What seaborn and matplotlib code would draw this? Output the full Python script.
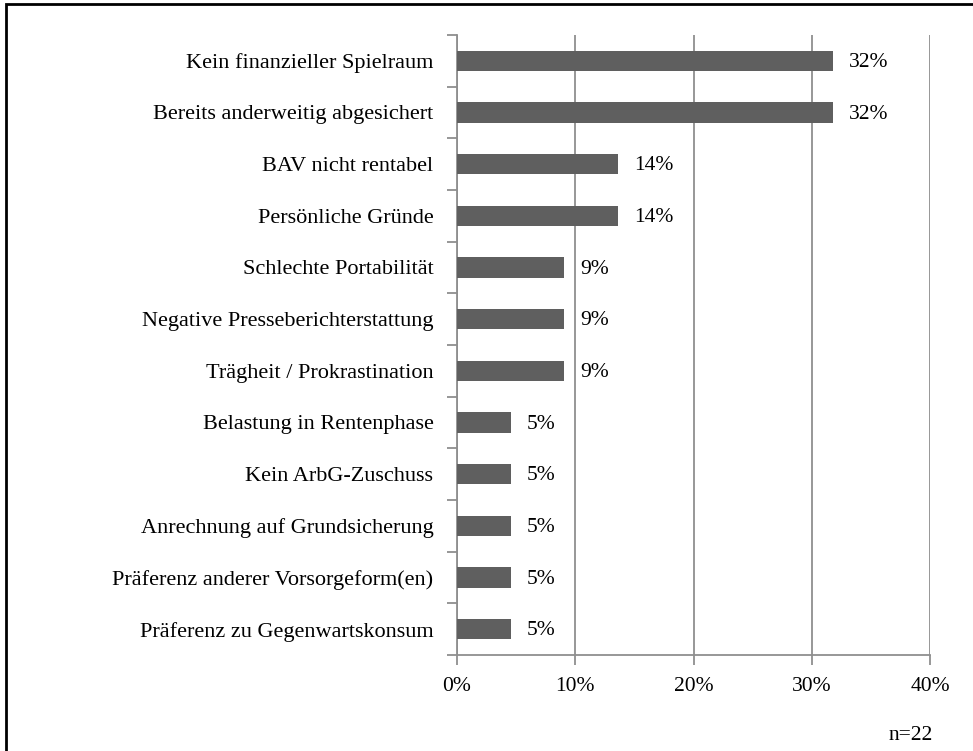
import matplotlib
matplotlib.use("Agg")
import matplotlib.pyplot as plt
from matplotlib.patches import Rectangle
from matplotlib.ticker import FixedLocator, FuncFormatter
import seaborn as sns
import pandas as pd

categories = [
    "Kein finanzieller Spielraum",
    "Bereits anderweitig abgesichert",
    "BAV nicht rentabel",
    "Persönliche Gründe",
    "Schlechte Portabilität",
    "Negative Presseberichterstattung",
    "Trägheit / Prokrastination",
    "Belastung in Rentenphase",
    "Kein ArbG-Zuschuss",
    "Anrechnung auf Grundsicherung",
    "Präferenz anderer Vorsorgeform(en)",
    "Präferenz zu Gegenwartskonsum",
]
shares = [31.82, 31.82, 13.64, 13.64, 9.09, 9.09, 9.09,
          4.55, 4.55, 4.55, 4.55, 4.55]
x_ticks = [0, 10, 20, 30, 40]
sample_note = "n=22"

df = pd.DataFrame({"Grund": categories, "Anteil": shares})

sns.set_theme(style="white")
plt.rcParams["font.family"] = ["Liberation Serif", "DejaVu Serif"]

FS = 15.5

fig = plt.figure(figsize=(9.73, 7.51), dpi=100)
ax = fig.add_axes([457 / 973, 1 - 655 / 751, (930 - 457) / 973, (655 - 35) / 751])

sns.barplot(data=df, x="Anteil", y="Grund", orient="h", color="#5f5f5f",
            saturation=1, width=0.39, ax=ax, zorder=3)
for p in ax.patches:
    p.set_edgecolor("none")

grid_c = "#8f8f8f"
ax.set_xlim(0, 40)
ax.set_ylim(len(categories) - 0.5, -0.5)
ax.xaxis.set_major_locator(FixedLocator(x_ticks))
ax.xaxis.set_major_formatter(FuncFormatter(lambda v, _: f"{v:.0f}%"))
ax.grid(axis="x", color=grid_c, linewidth=1.3, zorder=0)
ax.grid(axis="y", visible=False)

# category boundary ticks on the y axis
ax.set_yticks(range(len(categories)))
ax.set_yticks([i - 0.5 for i in range(len(categories) + 1)], minor=True)
ax.tick_params(axis="y", which="major", length=0, pad=17, labelsize=FS + 0.5,
               labelcolor="black")
ax.tick_params(axis="y", which="minor", length=7, width=1.3, color=grid_c,
               left=True)
ax.tick_params(axis="x", which="major", length=7, width=1.3, color=grid_c,
               bottom=True, pad=9, labelsize=FS, labelcolor="black")

for s in ["top", "right"]:
    ax.spines[s].set_visible(False)
for s in ["left", "bottom"]:
    ax.spines[s].set_color(grid_c)
    ax.spines[s].set_linewidth(1.3)

ax.set_xlabel("")
ax.set_ylabel("")

for i, v in enumerate(shares):
    ax.text(v + 1.35, i + 0.03, f"{v:.0f}%", va="center", ha="left",
            fontsize=FS, color="black")

fig.text(911 / 973, 1 - 735 / 751, sample_note, ha="center", va="center",
         fontsize=FS, color="black")

# outer frame of the figure
fig.patches.append(Rectangle((6 / 973, -0.05), 1.2, 1 - 4 / 751 + 0.05,
                             transform=fig.transFigure, fill=False,
                             edgecolor="black", linewidth=2, zorder=10))

fig.savefig("out.png", dpi=100)
